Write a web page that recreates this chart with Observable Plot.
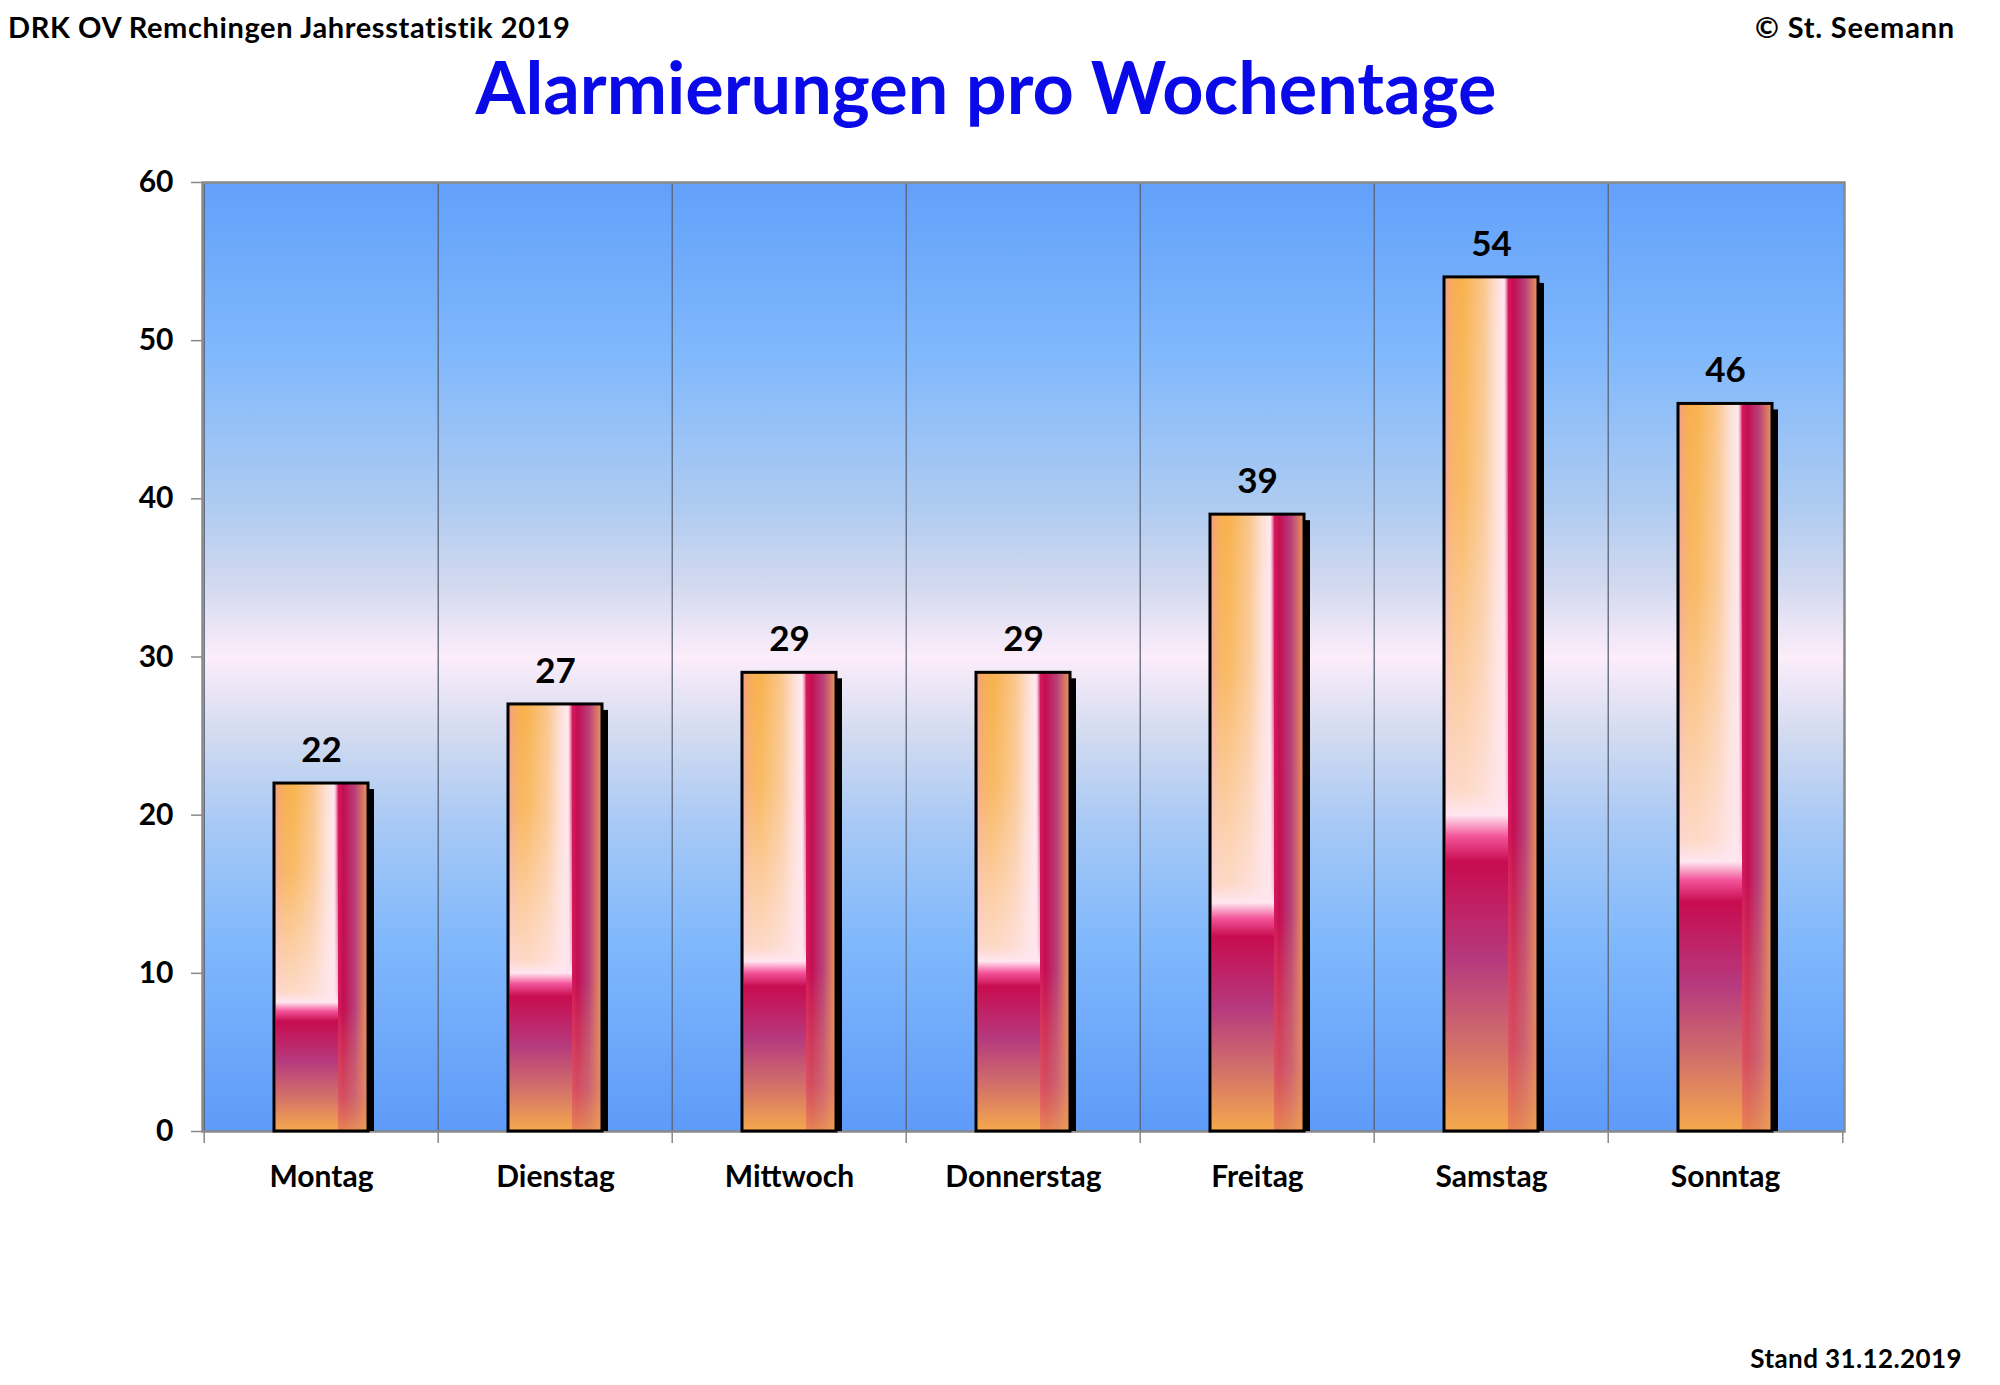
<!DOCTYPE html>
<html>
<head>
<meta charset="utf-8">
<script src="https://cdn.jsdelivr.net/npm/d3@7"></script>
<script src="https://cdn.jsdelivr.net/npm/@observablehq/plot@0.6"></script>
<style>
  html, body { margin: 0; padding: 0; background: #fff; }
  body { width: 2000px; height: 1385px; position: relative; overflow: hidden;
         font-family: "Comic Sans MS", "Lato", "Noto Sans", sans-serif; font-weight: bold; }
  #header { position: relative; width: 2000px; height: 140px; }
  .t { position: absolute; white-space: nowrap; color: #000; }
  #left { left: 8px; top: 9px; font-size: 29px; letter-spacing: 0.6px; }
  #right { right: 45px; top: 9px; font-size: 29px; letter-spacing: 0.8px; }
  #title { left: 0; width: 1972px; text-align: center; top: 43px; font-size: 72px; color: #0a0ae8; }
  #footer { position: relative; width: 2000px; height: 85px; }
  #stand { right: 38px; top: 42px; font-size: 26px; letter-spacing: 0.4px; }
</style>
</head>
<body>
<div id="header">
  <div class="t" id="left">DRK OV Remchingen Jahresstatistik 2019</div>
  <div class="t" id="right">© St. Seemann</div>
  <div class="t" id="title">Alarmierungen pro Wochentage</div>
</div>
<div id="chart"></div>
<div id="footer"><div class="t" id="stand">Stand 31.12.2019</div></div>
<script>
const days = ["Montag", "Dienstag", "Mittwoch", "Donnerstag", "Freitag", "Samstag", "Sonntag"];
const counts = [22, 27, 29, 29, 39, 54, 46];
const yTicks = [0, 10, 20, 30, 40, 50, 60];

const data = days.map((d, i) => ({day: d, value: counts[i]}));

const W = 2000, H = 1160, ML = 202, MR = 156, MT = 42, MB = 169;
const step = (W - ML - MR) / days.length;

const chart = Plot.plot({
  width: W,
  height: H,
  marginLeft: ML,
  marginRight: MR,
  marginTop: MT,
  marginBottom: MB,
  style: {fontFamily: '"Comic Sans MS", "Lato", "Noto Sans", sans-serif', fontSize: "30px", fontWeight: "bold", color: "#000", background: "transparent", overflow: "visible"},
  x: {domain: days, paddingInner: 0.6, paddingOuter: 0.3, label: null, tickSize: 0, tickPadding: 34},
  y: {domain: [0, 60], ticks: yTicks, tickSize: 11, tickPadding: 18, label: null},
  marks: [
    Plot.frame({fill: "url(#bgGrad)", stroke: "none"}),
    // vertical grid lines at band boundaries
    Plot.ruleX(days, {x: d => d, dx: -step / 2, stroke: "#5a6275", strokeWidth: 1.3}),
    // boundary ticks below axis
    Plot.ruleX(days, {x: d => d, dx: -step / 2, y1: 0, y2: 0, insetBottom: -12, stroke: "#888", strokeWidth: 1.5}),
    Plot.ruleX([days[days.length - 1]], {x: d => d, dx: step / 2, y1: 0, y2: 0, insetBottom: -12, stroke: "#888", strokeWidth: 1.5}),
    Plot.frame({stroke: "#8a8a8a", strokeWidth: 2.5}),
    // shadow
    Plot.barY(data, {x: "day", y: "value", fill: "#000", dx: 6, dy: 6, insetBottom: 6}),
    // main bar
    Plot.barY(data, {x: "day", y: "value", fill: "url(#barGrad)"}),
    // lower overlay
    Plot.barY(data, {x: "day", y: "value", fill: "url(#lowGrad)", insetRight: 30, insetLeft: 1.5}),
    // right stripe lower shading
    Plot.barY(data, {x: "day", y: "value", fill: "url(#lowRight)", insetLeft: 64}),
    // outline
    Plot.barY(data, {x: "day", y: "value", fill: "none", stroke: "#000", strokeWidth: 3}),
    Plot.text(data, {x: "day", y: "value", text: d => String(d.value), dy: -33, fontSize: 35, fontWeight: "bold", fill: "#000"})
  ]
});

document.getElementById("chart").appendChild(chart);

const svg = d3.select(chart.tagName.toLowerCase() === "svg" ? chart : chart.querySelector("svg"));
const defs = svg.insert("defs", ":first-child");

function grad(id, stops, vertical) {
  const g = defs.append("linearGradient").attr("id", id)
    .attr("x1", 0).attr("y1", 0).attr("x2", vertical ? 0 : 1).attr("y2", vertical ? 1 : 0);
  stops.forEach(([o, c, op]) => g.append("stop").attr("offset", o).attr("stop-color", c).attr("stop-opacity", op == null ? 1 : op));
}

grad("bgGrad", [
  [0, "#62a0fa"], [0.18, "#80b8fc"], [0.34, "#aecbf1"], [0.42, "#d0d8ef"],
  [0.5, "#fcedfa"], [0.58, "#d3dbf0"], [0.68, "#a6c8f5"], [0.8, "#80b8fc"], [1, "#5e9af8"]
], true);

grad("barGrad", [
  [0, "#f49c8a"], [0.1, "#f7ae52"], [0.2, "#f8b24e"], [0.42, "#fac68c"], [0.56, "#fde0d6"],
  [0.64, "#ffe8ef"], [0.66, "#f4a0c0"], [0.685, "#d41a5c"], [0.74, "#c40e52"], [0.86, "#b8407a"], [1, "#ec9858"]
], false);

grad("lowGrad", [
  [0, "#ffffff", 0], [0.25, "#ffe8ea", 0.15], [0.6, "#ffe6ee", 0.75], [0.63, "#ffe6f0", 1],
  [0.655, "#f3559a", 1], [0.685, "#c80c50", 1], [0.8, "#b63a7e", 1], [0.9, "#d2706a", 1], [1, "#f5a94c", 1]
], true);

grad("lowRight", [
  [0, "#e89060", 0], [0.65, "#e89060", 0], [0.9, "#e0806a", 0.55], [1, "#f0a050", 0.8]
], true);

// grey axis ticks
svg.selectAll('g[aria-label^="y-axis"] line, g[aria-label^="y-axis"] path').attr("stroke", "#888").attr("stroke-width", 1.5);
</script>
</body>
</html>
